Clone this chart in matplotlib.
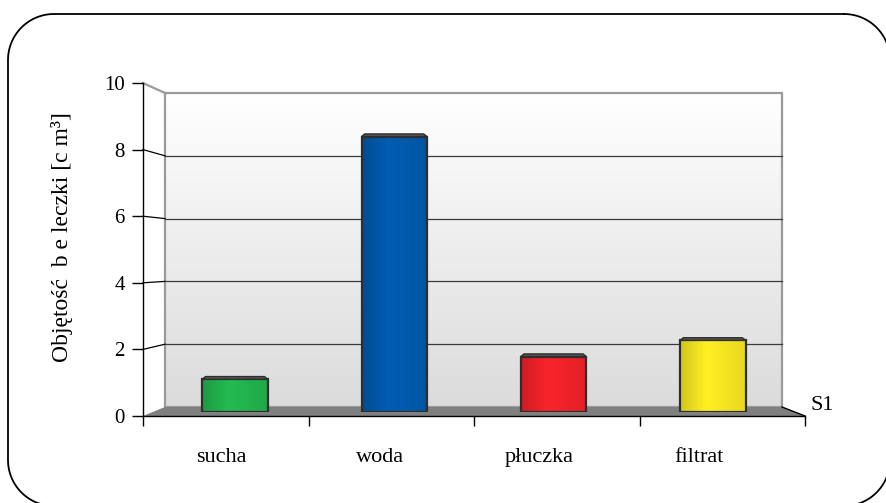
import numpy as np
import matplotlib
matplotlib.use("Agg")
import matplotlib.pyplot as plt
from matplotlib.patches import Rectangle, Polygon
from matplotlib.colors import to_rgb
import matplotlib.transforms as mtransforms

plt.rcParams['font.family'] = ['Liberation Serif', 'DejaVu Serif']

kategorie = ["sucha", "woda", "płuczka", "filtrat"]
objetosc = [1.0, 8.5, 1.7, 2.2]
kolory = ["#22b24c", "#0059ab", "#ee2229", "#f4e422"]
yticks = [0, 2, 4, 6, 8, 10]
seria = "S1"

W, H = 887, 503
fig = plt.figure(figsize=(W / 100, H / 100), dpi=100)

def fpos(left, right, bottom, top):
    # pixel box -> figure fraction
    return [left / W, 1 - bottom / H, (right - left) / W, (bottom - top) / H]

def rounded_rect(x0, y0, x1, y1, r, n=30):
    # closed outline with circular corners (pixel coords, y down)
    pts = []
    for cx, cy, a0 in [(x1 - r, y0 + r, -90), (x1 - r, y1 - r, 0),
                       (x0 + r, y1 - r, 90), (x0 + r, y0 + r, 180)]:
        a = np.radians(np.linspace(a0, a0 + 90, n))
        pts.append(np.column_stack([cx + r * np.cos(a), cy + r * np.sin(a)]))
    pts = np.vstack(pts)
    return np.vstack([pts, pts[:1]])

# ramka z zaokraglonymi rogami
bg = fig.add_axes([0, 0, 1, 1])
bg.set_xlim(0, W)
bg.set_ylim(H, 0)
bg.axis("off")
frame = rounded_rect(8, 14, 890, 506, 46)
bg.plot(frame[:, 0], frame[:, 1], color="black", lw=1.3)

# przednia os (wartosci)
ax = fig.add_axes(fpos(143, 805, 416, 83))
ax.set_xlim(-0.5, 3.5)
ax.set_ylim(0, 10)
ax.patch.set_visible(False)
for s in ["top", "right"]:
    ax.spines[s].set_visible(False)
ax.spines["left"].set_linewidth(1.0)
ax.spines["bottom"].set_linewidth(1.0)
ax.set_yticks(yticks)
ax.set_yticklabels([str(t) for t in yticks], fontsize=15)
ax.tick_params(axis="y", length=8, width=1.0, pad=5)
ax.set_xticks(np.arange(-0.5, 3.6, 1.0))
ax.set_xticklabels([])
ax.tick_params(axis="x", length=7, width=1.0)

# tylna sciana i podloga (perspektywa)
wx0, wx1 = -0.367, 3.361
def wall_y(v):
    return (9 + 31.4 * v) / 33.3

grad = np.linspace(0.86, 1.0, 200).reshape(-1, 1)
ax.imshow(np.dstack([grad, grad, grad]), extent=[wx0, wx1, wall_y(0), wall_y(10)],
          origin="lower", aspect="auto", zorder=0.5)
ax.add_patch(Rectangle((wx0, wall_y(0)), wx1 - wx0, wall_y(10) - wall_y(0),
                       fc="none", ec="#9a9a9a", lw=1.6, zorder=1))
for v in yticks[1:-1]:
    ax.plot([-0.5, wx0], [v, wall_y(v)], color="black", lw=0.9, zorder=1, clip_on=False)
    ax.plot([wx0, wx1], [wall_y(v), wall_y(v)], color="#3a3a3a", lw=0.9, zorder=1)
ax.plot([-0.5, wx0], [10, wall_y(10)], color="#9a9a9a", lw=1.6, zorder=1, clip_on=False)
ax.add_patch(Polygon([(-0.5, 0), (wx0, wall_y(0)), (wx1, wall_y(0)), (3.5, 0)],
                     closed=True, fc="#808080", ec="none", zorder=1.5))
ax.plot([wx1, 3.5], [wall_y(0), 0], color="black", lw=1.0, zorder=2, clip_on=False)

# slupki (srodek glebokosci)
axb = fig.add_axes(fpos(155.3, 792.5, 411.5, 88))
axb.set_xlim(-0.5, 3.5)
axb.set_ylim(0, 10)
axb.patch.set_visible(False)
for s in axb.spines.values():
    s.set_visible(False)
axb.set_yticks([])
axb.set_xticks(range(len(kategorie)))
axb.set_xticklabels(kategorie, fontsize=16)
axb.tick_params(axis="x", length=0, pad=26)
shift = mtransforms.ScaledTranslation(-14 / 100, 0, fig.dpi_scale_trans)
for lab in axb.get_xticklabels():
    lab.set_transform(lab.get_transform() + shift)

bw = 0.41
shade = np.concatenate([np.linspace(0.86, 1.05, 40), np.linspace(1.05, 0.95, 60)])
for i, (v, c) in enumerate(zip(objetosc, kolory)):
    rgb = np.clip(np.outer(shade, to_rgb(c)), 0, 1).reshape(1, -1, 3)
    axb.imshow(rgb, extent=[i - bw / 2, i + bw / 2, 0, v], aspect="auto", zorder=3)
    axb.add_patch(Rectangle((i - bw / 2, 0), bw, v, fc="none", ec="#2e2e2e", lw=1.6, zorder=4))
    cap = 0.08
    axb.add_patch(Polygon([(i - bw / 2, v), (i - bw / 2 + 0.02, v + cap),
                           (i + bw / 2 - 0.02, v + cap), (i + bw / 2, v)],
                          closed=True, fc="#5a5a5a", ec="#2e2e2e", lw=1.0, zorder=4))

fig.text(62 / W, 1 - 237 / H, "Objętość  b e leczki [c m³]", rotation=90,
         ha="center", va="center", fontsize=17)
fig.text(811 / W, 1 - 405 / H, seria, ha="left", va="center", fontsize=16)

fig.savefig("out.png", dpi=100)
